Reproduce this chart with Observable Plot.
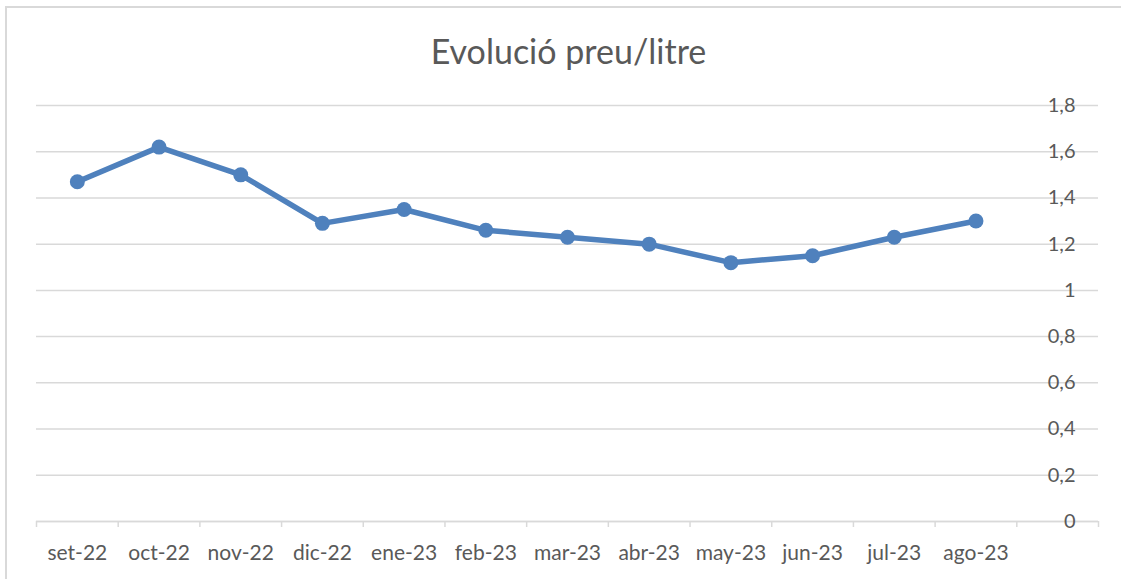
<!DOCTYPE html>
<html>
<head>
<meta charset="utf-8">
<script src="https://cdn.jsdelivr.net/npm/d3@7"></script>
<script src="https://cdn.jsdelivr.net/npm/@observablehq/plot@0.6"></script>
<style>
  html, body { margin: 0; padding: 0; background: #fff; }
  body { width: 1121px; height: 579px; position: relative; overflow: hidden; font-family: Lato, "Open Sans", sans-serif; }
  #frame { position: absolute; left: 5px; top: 6px; width: 1200px; height: 700px; border-left: 2px solid #d9d9d9; border-top: 2px solid #d9d9d9; }
  #title { position: absolute; left: 0; top: 30px; width: 1137px; text-align: center; font-size: 34px; color: #595959; line-height: 42px; }
  #chart { position: absolute; left: 0; top: 0; }
</style>
</head>
<body>
<div id="frame"></div>
<div id="chart"></div>
<div id="title">Evolució preu/litre</div>
<script>
const months = ["set-22","oct-22","nov-22","dic-22","ene-23","feb-23","mar-23","abr-23","may-23","jun-23","jul-23","ago-23"];
const prices = [1.47, 1.62, 1.50, 1.29, 1.35, 1.26, 1.23, 1.20, 1.12, 1.15, 1.23, 1.30];
const yTicks = [0, 0.2, 0.4, 0.6, 0.8, 1, 1.2, 1.4, 1.6, 1.8];

const data = months.map((m, i) => ({month: m, idx: i + 0.5, price: prices[i]}));
const nSlots = months.length + 1;
const fmt = v => String(v).replace(".", ",");

const chart = Plot.plot({
  width: 1121,
  height: 579,
  marginLeft: 36,
  marginRight: 23,
  marginTop: 105,
  marginBottom: 58,
  style: {fontFamily: "Lato, 'Open Sans', sans-serif", fontSize: "20px", color: "#595959", background: "transparent"},
  x: {type: "linear", domain: [0, nSlots]},
  y: {domain: [0, 1.8]},
  marks: [
    Plot.gridY(yTicks, {stroke: "#d9d9d9", strokeOpacity: 1, strokeWidth: 1.5}),
    Plot.ruleY([0], {stroke: "#d9d9d9", strokeWidth: 1.5}),
    Plot.axisX({ticks: d3.range(0, nSlots + 1), tickFormat: () => "", tickSize: 6, stroke: "#d9d9d9", strokeWidth: 1.5, strokeOpacity: 1, label: null}),
    Plot.axisX({ticks: data.map(d => d.idx), tickFormat: v => months[Math.floor(v)], tickSize: 0, tickPadding: 24, fill: "#595959", fontSize: 21, label: null}),
    Plot.axisY({anchor: "right", ticks: yTicks, tickFormat: fmt, tickSize: 0, tickPadding: 0, textAnchor: "end", dx: -23, fill: "#595959", fontSize: 20, label: null}),
    Plot.line(data, {x: "idx", y: "price", stroke: "#4f81bd", strokeWidth: 5.5, strokeLinejoin: "round", strokeLinecap: "round"}),
    Plot.dot(data, {x: "idx", y: "price", r: 7.5, fill: "#4f81bd", stroke: "none"})
  ]
});
document.getElementById("chart").appendChild(chart);
</script>
</body>
</html>
